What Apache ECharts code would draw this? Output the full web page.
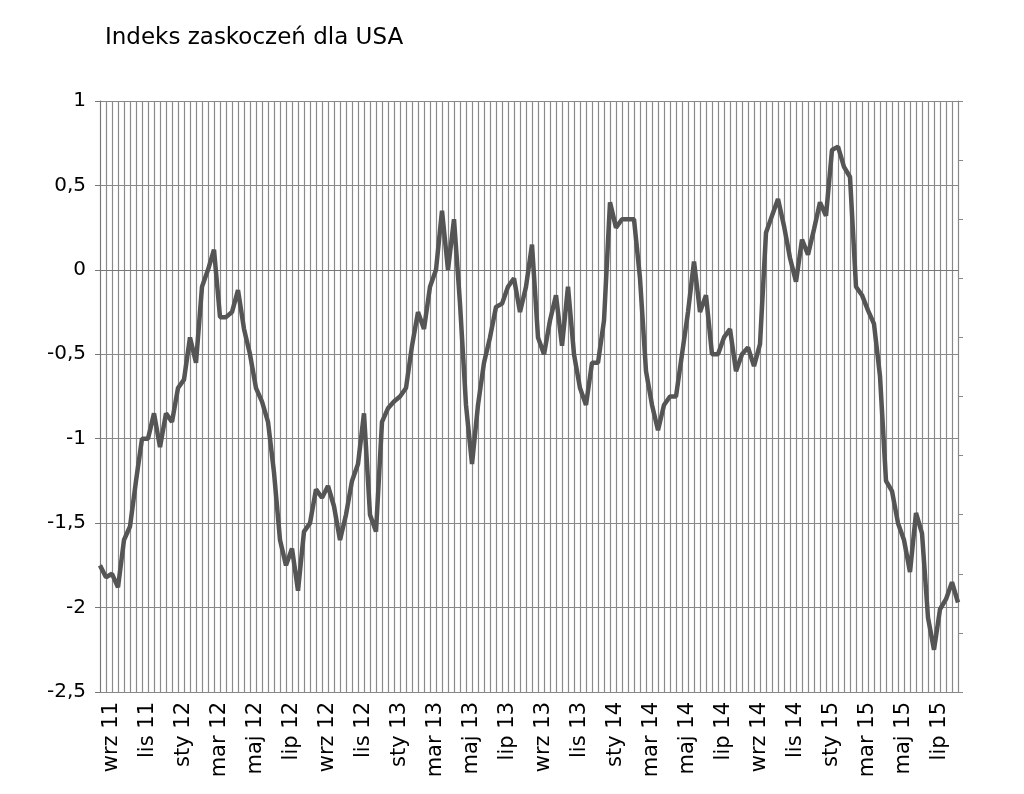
<!DOCTYPE html>
<html><head><meta charset="utf-8">
<script src="https://cdn.jsdelivr.net/npm/echarts@6/dist/echarts.min.js"></script>
<style>body{margin:0}#c{width:1024px;height:794px}</style></head>
<body><div id="c"></div>
<script>
const values = [-1.75,-1.82,-1.80,-1.88,-1.60,-1.52,-1.25,-1.0,-1.0,-0.85,-1.05,-0.85,-0.9,-0.7,-0.65,-0.4,-0.55,-0.1,0.0,0.12,
-0.28,-0.28,-0.25,-0.12,-0.35,-0.5,-0.7,-0.78,-0.9,-1.2,-1.6,-1.75,-1.65,-1.9,-1.55,-1.5,-1.3,
-1.35,-1.28,-1.4,-1.6,-1.45,-1.25,-1.15,-0.85,-1.45,-1.55,-0.9,-0.82,-0.78,-0.75,-0.7,-0.45,-0.25,-0.35,-0.1,0.0,0.35,0.0,0.3,-0.2,-0.8,-1.15,-0.8,-0.55,-0.4,-0.22,-0.2,-0.1,-0.05,-0.25,-0.1,0.15,
-0.4,-0.5,-0.3,-0.15,-0.45,-0.1,-0.5,-0.7,-0.8,-0.55,-0.55,-0.3,0.4,0.25,0.3,0.3,0.3,-0.05,-0.6,-0.8,-0.95,-0.8,-0.75,-0.75,-0.5,-0.25,0.05,-0.25,-0.15,-0.5,-0.5,-0.4,-0.35,-0.6,-0.5,
-0.46,-0.57,-0.44,0.22,0.32,0.42,0.26,0.07,-0.07,0.18,0.09,0.24,0.4,0.32,0.71,0.73,0.61,0.55,-0.1,-0.15,-0.24,-0.32,-0.63,-1.25,-1.31,-1.5,-1.6,-1.79,-1.44,-1.56,-2.06,-2.25,-2.01,-1.95,-1.85,-1.97];
const monthLabels = ['wrz 11','lis 11','sty 12','mar 12','maj 12','lip 12','wrz 12','lis 12','sty 13','mar 13','maj 13','lip 13','wrz 13','lis 13','sty 14','mar 14','maj 14','lip 14','wrz 14','lis 14','sty 15','mar 15','maj 15','lip 15'];
const firstLabel = 2, labelStep = 6;
const categories = values.map((v,i)=>String(i));
const yTicks = {min:-2.5,max:1,interval:0.5};
const chart = echarts.init(document.getElementById('c'));
chart.setOption({
  animation:false,
  backgroundColor:'#fff',
  title:{text:'Indeks zaskoczeń dla USA',left:100,top:22,textStyle:{fontFamily:'DejaVu Sans',fontSize:23,fontWeight:'normal',color:'#000'}},
  grid:{left:100,right:66,top:101,bottom:102},
  xAxis:{type:'category',data:categories,boundaryGap:false,
    axisLine:{lineStyle:{color:'#777'}},axisTick:{show:false},
    splitLine:{show:true,interval:0,lineStyle:{color:'#8a8a8a',width:1.2}},
    axisLabel:{interval:(i)=> i>=firstLabel && (i-firstLabel)%labelStep===0,rotate:90,margin:10,
      fontFamily:'DejaVu Sans',fontSize:21,color:'#000',
      formatter:(v,i)=>monthLabels[(i-firstLabel)/labelStep]||''}},
  yAxis:[{type:'value',min:yTicks.min,max:yTicks.max,interval:yTicks.interval,
    axisLine:{show:true,lineStyle:{color:'#777'}},axisTick:{show:true,length:5,lineStyle:{color:'#777'}},
    splitLine:{show:true,lineStyle:{color:'#888'}},
    axisLabel:{formatter:v=>String(v).replace('.',','),fontFamily:'DejaVu Sans',fontSize:20,color:'#000',margin:14}},
   {type:'value',min:0,max:10,interval:1,position:'right',
    axisLine:{show:true,lineStyle:{color:'#888'}},axisTick:{show:true,length:5,lineStyle:{color:'#888'}},
    splitLine:{show:false},axisLabel:{show:false}}],
  series:[{type:'line',data:values,showSymbol:false,lineStyle:{color:'#555',width:4.5},itemStyle:{color:'#555'}}]
});
</script></body></html>
